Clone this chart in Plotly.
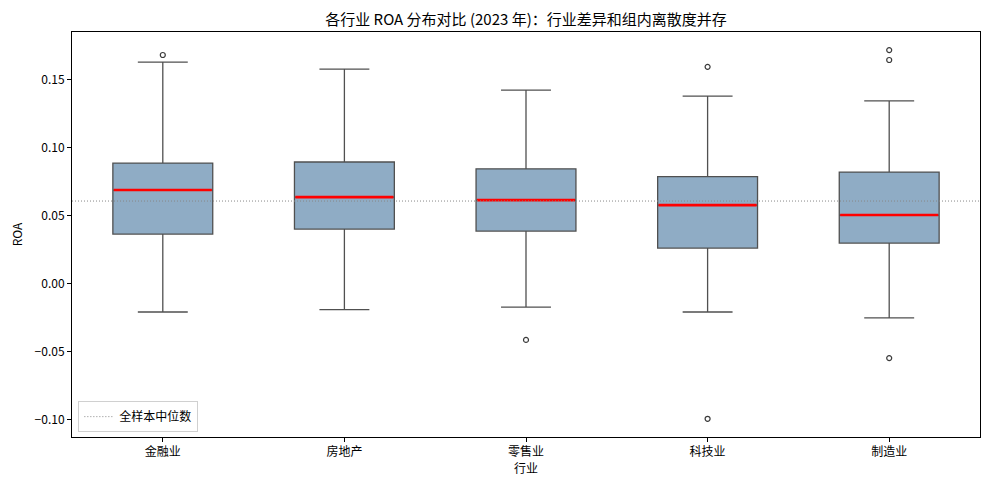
import plotly.graph_objects as go

industries = ["金融业", "房地产", "零售业", "科技业", "制造业"]
q1 = [0.0363, 0.0400, 0.0385, 0.0260, 0.0297]
median = [0.0687, 0.0635, 0.0613, 0.0576, 0.0503]
q3 = [0.0885, 0.0893, 0.0843, 0.0785, 0.0819]
lower = [-0.0210, -0.0193, -0.0174, -0.0210, -0.0253]
upper = [0.1628, 0.1576, 0.1422, 0.1378, 0.1343]
outlier_ind = [0, 2, 3, 3, 4, 4, 4]
outlier_val = [0.1680, -0.0415, 0.1593, -0.0995, 0.1716, 0.1643, -0.0549]
overall_median = 0.0606

pos = list(range(len(industries)))
box_w = 0.55
font = "Noto Sans CJK SC, SimHei, sans-serif"

fig = go.Figure()

fig.add_trace(go.Box(
    x=pos, q1=q1, median=median, q3=q3,
    lowerfence=lower, upperfence=upper,
    width=box_w, whiskerwidth=0.5,
    fillcolor="#8FACC5",
    line=dict(color="#505050", width=1.3),
    boxpoints=False, showlegend=False, hoverinfo="skip",
))

# red median lines on top of the boxes
mx, my = [], []
for p, m in zip(pos, median):
    mx += [p - box_w / 2 + 0.005, p + box_w / 2 - 0.005, None]
    my += [m, m, None]
fig.add_trace(go.Scatter(x=mx, y=my, mode="lines",
                         line=dict(color="red", width=2.6),
                         showlegend=False, hoverinfo="skip"))

fig.add_trace(go.Scatter(
    x=outlier_ind, y=outlier_val, mode="markers",
    marker=dict(symbol="circle-open", size=5, color="#3a3a3a", line=dict(width=1.2)),
    showlegend=False, hoverinfo="skip",
))

fig.add_trace(go.Scatter(
    x=[-0.5, 4.5], y=[overall_median, overall_median], mode="lines",
    line=dict(color="#888888", width=1, dash="1px,2px"),
    name="全样本中位数", hoverinfo="skip",
))

# page body adds 8px margin, so the figure is a bit smaller
fig.update_layout(
    width=981, height=481,
    margin=dict(l=64, r=9, t=24, b=52),
    paper_bgcolor="white", plot_bgcolor="white",
    font=dict(family=font, size=12, color="black"),
    title=dict(text="各行业 ROA 分布对比 (2023 年)：行业差异和组内离散度并存",
               x=0.5, xref="paper", xanchor="center", y=0.975, yanchor="middle",
               font=dict(size=15, color="black")),
    legend=dict(x=0.007, y=0.012, xanchor="left", yanchor="bottom",
                bgcolor="white", bordercolor="#d0d0d0", borderwidth=1,
                font=dict(size=12)),
)

fig.update_xaxes(
    range=[-0.5, 4.5], tickvals=pos, ticktext=industries,
    showgrid=False, zeroline=False, automargin=False,
    showline=True, linecolor="black", linewidth=1, mirror=True,
    ticks="outside", ticklen=4, tickcolor="black",
    title=dict(text="行业", standoff=5, font=dict(size=12)),
)
fig.update_yaxes(
    range=[-0.1129, 0.1849], tickvals=[-0.10, -0.05, 0.0, 0.05, 0.10, 0.15],
    ticktext=["−0.10", "−0.05", "0.00", "0.05", "0.10", "0.15"],
    showgrid=False, zeroline=False, automargin=False,
    showline=True, linecolor="black", linewidth=1, mirror=True,
    ticks="outside", ticklen=4, tickcolor="black",
    title=dict(text="ROA", standoff=10, font=dict(size=12)),
)

fig.write_html("out.html")
